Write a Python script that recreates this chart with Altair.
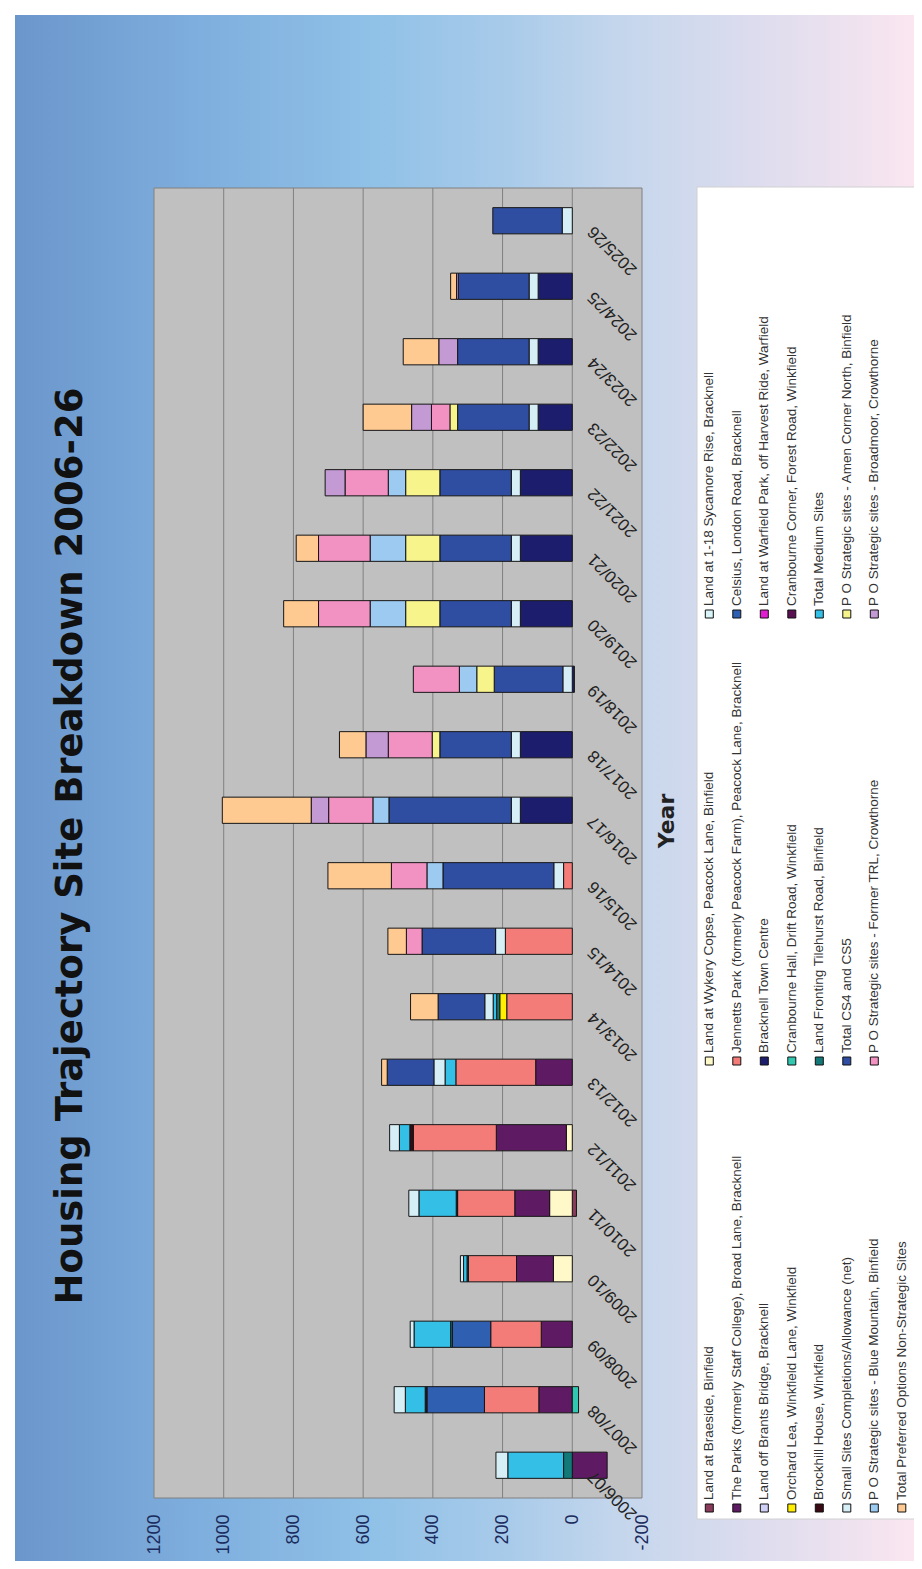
import altair as alt
import pandas as pd

YEARS = ["2006/07", "2007/08", "2008/09", "2009/10", "2010/11", "2011/12", "2012/13",
         "2013/14", "2014/15", "2015/16", "2016/17", "2017/18", "2018/19", "2019/20",
         "2020/21", "2021/22", "2022/23", "2023/24", "2024/25", "2025/26"]

SERIES = [
    "Land at Braeside, Binfield",
    "Land at Wykery Copse, Peacock Lane, Binfield",
    "Land at 1-18 Sycamore Rise, Bracknell",
    "The Parks (formerly Staff College), Broad Lane, Bracknell",
    "Jennetts Park (formerly Peacock Farm), Peacock Lane, Bracknell",
    "Celsius, London Road, Bracknell",
    "Land off Brants Bridge, Bracknell",
    "Bracknell Town Centre",
    "Land at Warfield Park, off Harvest Ride, Warfield",
    "Orchard Lea, Winkfield Lane, Winkfield",
    "Cranbourne Hall, Drift Road, Winkfield",
    "Cranbourne Corner, Forest Road, Winkfield",
    "Brockhill House, Winkfield",
    "Land Fronting Tilehurst Road, Binfield",
    "Total Medium Sites",
    "Small Sites Completions/Allowance (net)",
    "Total CS4 and CS5",
    "P O Strategic sites - Amen Corner North, Binfield",
    "P O Strategic sites - Blue Mountain, Binfield",
    "P O Strategic sites - Former TRL, Crowthorne",
    "P O Strategic sites - Broadmoor, Crowthorne",
    "Total Preferred Options Non-Strategic Sites",
]

COLORS = ["#8a3a5a", "#fff8c8", "#d8f4f8", "#5e1a62", "#f47c78", "#2e5fb0",
          "#d0d0f5", "#1d1d6e", "#e020d0", "#ffee00", "#30c8b0", "#5a1050",
          "#3a0a14", "#127878", "#33bfe6", "#d6eef6", "#2f4ea2", "#f8f48c",
          "#9ccaf0", "#f292c2", "#c49ad4", "#ffca92"]

# values per series, 2006/07 ... 2025/26
BRAESIDE    = [0, 0, 0, 0, -12, 0, 0, 0, 0, 0, 0, 0, 0, 0, 0, 0, 0, 0, 0, 0]
WYKERY      = [0, 0, 0, 54, 65, 17, 0, 0, 0, 0, 0, 0, 0, 0, 0, 0, 0, 0, 0, 0]
SYCAMORE    = [0, 0, 0, 0, 0, 0, 0, 0, 0, 0, 0, 0, 0, 0, 0, 0, 0, 0, 0, 0]
PARKS       = [-100, 96, 89, 106, 100, 201, 105, 0, 0, 0, 0, 0, 0, 0, 0, 0, 0, 0, 0, 0]
JENNETTS    = [0, 156, 145, 138, 164, 238, 229, 188, 192, 25, 0, 0, 0, 0, 0, 0, 0, 0, 0, 0]
CELSIUS     = [0, 165, 110, 0, 0, 0, 0, 0, 0, 0, 0, 0, 0, 0, 0, 0, 0, 0, 0, 0]
BRANTS      = [0, 0, 0, 0, 0, 0, 0, 0, 0, 0, 0, 0, 0, 0, 0, 0, 0, 0, 0, 0]
TOWN_CENTRE = [0, 0, 0, 0, 0, 0, 0, 0, 0, 0, 149, 149, -6, 149, 149, 149, 98, 98, 98, 0]
WARFIELD    = [0, 0, 0, 0, 0, 0, 0, 0, 0, 0, 0, 0, 0, 0, 0, 0, 0, 0, 0, 0]
ORCHARD     = [0, 0, 0, 0, 0, 0, 0, 20, 0, 0, 0, 0, 0, 0, 0, 0, 0, 0, 0, 0]
CRAN_HALL   = [0, -18, 0, 0, 0, 0, 0, 0, 0, 0, 0, 0, 0, 0, 0, 0, 0, 0, 0, 0]
CRAN_CORNER = [0, 0, 0, 0, 0, 0, 0, 0, 0, 0, 0, 0, 0, 0, 0, 0, 0, 0, 0, 0]
BROCKHILL   = [0, 5, 0, 0, 4, 10, 0, 0, 0, 0, 0, 0, 0, 0, 0, 0, 0, 0, 0, 0]
TILEHURST   = [25, 0, 5, 4, 0, 0, 0, 9, 0, 0, 0, 0, 0, 0, 0, 0, 0, 0, 0, 0]
MEDIUM      = [160, 57, 105, 10, 107, 30, 31, 10, 0, 0, 0, 0, 0, 0, 0, 0, 0, 0, 0, 0]
SMALL       = [34, 32, 11, 9, 29, 28, 32, 24, 28, 28, 26, 26, 27, 26, 26, 26, 26, 26, 26, 29]
CS45        = [0, 0, 0, 0, 0, 0, 134, 134, 211, 318, 351, 205, 197, 205, 205, 205, 205, 205, 203, 199]
AMEN        = [0, 0, 0, 0, 0, 0, 0, 0, 0, 0, 0, 22, 50, 98, 98, 98, 22, 0, 0, 0]
BLUE_MTN    = [0, 0, 0, 0, 0, 0, 0, 0, 0, 46, 46, 0, 50, 102, 102, 50, 0, 0, 0, 0]
TRL         = [0, 0, 0, 0, 0, 0, 0, 0, 45, 102, 127, 126, 132, 148, 148, 124, 53, 0, 0, 0]
BROADMOOR   = [0, 0, 0, 0, 0, 0, 0, 0, 0, 0, 50, 64, 0, 0, 0, 57, 57, 54, 5, 0]
TPO         = [0, 0, 0, 0, 0, 0, 16, 79, 53, 182, 255, 76, 0, 100, 64, 0, 139, 102, 17, 0]

VALUES = [BRAESIDE, WYKERY, SYCAMORE, PARKS, JENNETTS, CELSIUS, BRANTS, TOWN_CENTRE,
          WARFIELD, ORCHARD, CRAN_HALL, CRAN_CORNER, BROCKHILL, TILEHURST, MEDIUM,
          SMALL, CS45, AMEN, BLUE_MTN, TRL, BROADMOOR, TPO]

AXIS_TICKS = [-200, 0, 200, 400, 600, 800, 1000, 1200]
GRID = [0, 200, 400, 600, 800, 1000]

TITLE = "Housing Trajectory Site Breakdown 2006-26"
AXIS_TITLE = "Year"

# ---------------------------------------------------------------- tables
rows = []
for k, (name, vals) in enumerate(zip(SERIES, VALUES)):
    for yr, v in zip(YEARS, vals):
        if v != 0:
            rows.append({"series": name, "year": yr, "value": v, "k": k})
bar_df = pd.DataFrame(rows)

leg_df = pd.DataFrame({
    "series": SERIES,
    "row": [k // 3 for k in range(len(SERIES))],
    "col": [k % 3 for k in range(len(SERIES))],
})
one = pd.DataFrame({"a": [0]})

W, H = 488, 1310
FONT = "Liberation Sans"

x_scale = alt.Scale(domain=[-200, 1200], reverse=True, nice=False, zero=False)
zero_px = (1200 - 0) / 1400 * W
color_scale = alt.Scale(domain=SERIES, range=COLORS)

gradient = {
    "gradient": "linear", "x1": 0, "y1": 0, "x2": 1, "y2": 0,
    "stops": [
        {"offset": 0.0, "color": "#6b96cc"},
        {"offset": 0.2, "color": "#7eaedd"},
        {"offset": 0.4, "color": "#90c1e7"},
        {"offset": 0.55, "color": "#a9cbea"},
        {"offset": 0.67, "color": "#c4d6ec"},
        {"offset": 0.82, "color": "#dcdcee"},
        {"offset": 1.0, "color": "#fae6f0"},
    ],
}

bg = alt.Chart(one).mark_rect(fill=gradient).encode(
    x=alt.value(-139), x2=alt.value(760), y=alt.value(-173), y2=alt.value(1380))

legend_box = alt.Chart(one).mark_rect(fill="white", stroke="#d0d0d0").encode(
    x=alt.value(543), x2=alt.value(770), y=alt.value(-1), y2=alt.value(1331))

plot_rect = alt.Chart(one).mark_rect(fill="#c0c0c0", stroke="#808080", strokeWidth=1).encode(
    x=alt.value(0), x2=alt.value(W), y=alt.value(0), y2=alt.value(H))

grid = alt.Chart(pd.DataFrame({"v": GRID})).mark_rule(color="#808080", strokeWidth=1).encode(
    x=alt.X("v:Q", scale=x_scale, axis=None))

x_axis = alt.Axis(values=AXIS_TICKS, labelAngle=270, labelFontSize=18, labelFont=FONT,
                  labelColor="#1a2a5c", ticks=False, domain=False, grid=False, title=None,
                  labelPadding=16, zindex=1, labelOverlap=False, labelFlush=False,
                  labelExpr="toString(datum.value)")
y_axis = alt.Axis(orient="right", offset=-(W - zero_px), labelAngle=225, labelAlign="right",
                  labelBaseline="middle", labelPadding=18, labelOffset=8, ticks=False,
                  domain=False, grid=False, labelFontSize=17, labelFont=FONT,
                  labelColor="#222222", zindex=1, title=None, labelOverlap=False)

bars = alt.Chart(bar_df).mark_bar(stroke="#151515", strokeWidth=1).encode(
    x=alt.X("value:Q", scale=x_scale, axis=x_axis, stack="zero"),
    y=alt.Y("year:N", scale=alt.Scale(domain=YEARS[::-1], paddingInner=0.6, paddingOuter=0.3),
            axis=y_axis),
    color=alt.Color("series:N", scale=color_scale, legend=None),
    order=alt.Order("k:Q"),
)

title = alt.Chart(one).mark_text(text=TITLE, angle=270, font="DejaVu Sans", fontWeight="bold",
                                 fontSize=37, color="#111111", align="center",
                                 baseline="middle").encode(x=alt.value(-83), y=alt.value(658))

axis_title = alt.Chart(one).mark_text(text=AXIS_TITLE, angle=270, font="DejaVu Sans",
                                      fontWeight="bold", fontSize=22, color="#222222",
                                      align="center", baseline="middle").encode(
    x=alt.value(513), y=alt.value(633))

leg_x = alt.Scale(domain=[0, 7], range=[555.3, 747.8], nice=False, zero=False)
leg_y = alt.Scale(domain=[0, 2], range=[1320, 426], nice=False, zero=False)

swatches = alt.Chart(leg_df).mark_square(size=64, stroke="#111111", strokeWidth=1, opacity=1).encode(
    x=alt.X("row:Q", scale=leg_x, axis=None),
    y=alt.Y("col:Q", scale=leg_y, axis=None),
    color=alt.Color("series:N", scale=color_scale, legend=None),
)
labels = alt.Chart(leg_df).mark_text(angle=270, align="left", baseline="middle", dx=8,
                                     font=FONT, fontSize=13.5, color="#333333").encode(
    x=alt.X("row:Q", scale=leg_x, axis=None),
    y=alt.Y("col:Q", scale=leg_y, axis=None),
    text="series:N",
)

chart = alt.layer(bg, legend_box, plot_rect, grid, bars, title, axis_title, swatches, labels).resolve_scale(
    x="independent", y="independent", color="independent"
).properties(
    width=W, height=H,
    padding={"left": 146, "top": 180, "right": 272, "bottom": 63},
    autosize=alt.AutoSizeParams(type="none"),
    background="white",
).configure_view(stroke=None)

chart.save("out.html", embed_options={"renderer": "svg", "actions": False})
